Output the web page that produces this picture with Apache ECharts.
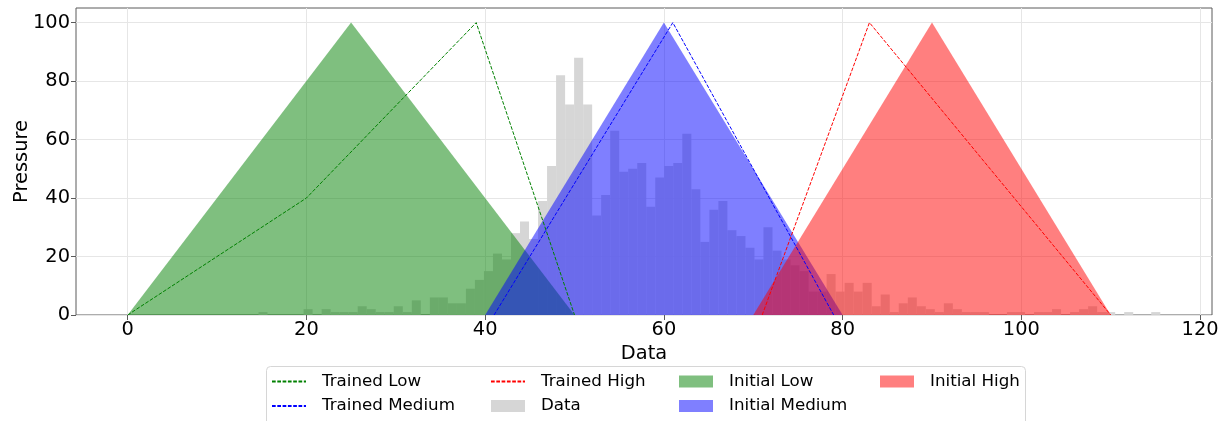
<!DOCTYPE html>
<html>
<head>
<meta charset="utf-8">
<script src="https://cdn.jsdelivr.net/npm/echarts@6/dist/echarts.min.js"></script>
<style>
  html, body { margin: 0; padding: 0; background: #ffffff; }
  #chart { width: 1223px; height: 421px; }
</style>
</head>
<body>
<div id="chart"></div>
<script>
// Histogram of the observed data: first bin edge, bin width and count per bin
const binStart = 14.64;
const binWidth = 1.009;
const binCounts = [
  1, 0, 0, 0, 0, 2, 0, 2, 1, 1,
  1, 3, 2, 1, 1, 3, 1, 5, 0, 6,
  6, 4, 4, 9, 12, 15, 21, 19, 28, 32,
  26, 39, 51, 82, 72, 88, 72, 34, 41, 63,
  49, 50, 52, 37, 47, 51, 52, 62, 43, 25,
  36, 39, 29, 27, 23, 19, 30, 22, 19, 17,
  15, 8, 8, 14, 8, 11, 8, 11, 3, 7,
  1, 4, 6, 3, 2, 1, 4, 2, 1, 1,
  1, 0, 0, 1, 1, 0, 1, 1, 2, 0,
  1, 2, 3, 1, 1, 0, 1, 0, 0, 1
];

// Initial triangular membership functions: [x, pressure] vertices
const initialLow = [[0, 0], [25, 100], [50, 0]];
const initialMedium = [[40, 0], [60, 100], [80, 0]];
const initialHigh = [[70, 0], [90, 100], [110, 0]];

// Trained membership functions
const trainedLow = [[0, 0], [20, 40], [39, 100], [50, 0]];
const trainedMedium = [[41, 0], [61, 100], [79, 0]];
const trainedHigh = [[71, 0], [83, 100], [110, 0]];

// Axis ticks and extents
const xTicks = [0, 20, 40, 60, 80, 100, 120];
const yTicks = [0, 20, 40, 60, 80, 100];
const xMin = -5.78, xMax = 121.33;
const yMin = 0, yMax = 105;

// Rows of [binLeft, binRight, count] for the custom histogram series
const histRows = binCounts.map((c, i) => [
  binStart + i * binWidth,
  binStart + (i + 1) * binWidth,
  c
]);

const FONT = 'DejaVu Sans';
const FRAME = '#5a5a5a';
const GRID = '#e6e6e6';

const GREEN = 'rgba(0,128,0,0.5)';
const BLUE = 'rgba(0,0,255,0.5)';
const RED = 'rgba(255,0,0,0.5)';
const GREY = 'rgba(211,211,211,0.92)';

function areaSeries(name, data, color) {
  return {
    name: name,
    type: 'line',
    data: data,
    symbol: 'none',
    color: color,
    lineStyle: { width: 0 },
    areaStyle: { color: color, opacity: 1 },
    z: 2,
    silent: true
  };
}

function dashedSeries(name, data, color) {
  return {
    name: name,
    type: 'line',
    data: data,
    symbol: 'none',
    color: color,
    lineStyle: { width: 1, type: [3.7, 1.6], color: color },
    z: 3,
    silent: true
  };
}

// Legend entry for a dashed line: hide the marker, keep the line
function lineEntry(name) {
  return { name: name, itemStyle: { opacity: 0 } };
}

function patchEntry(name, color) {
  return { name: name, icon: 'rect', itemStyle: { color: color, opacity: 1 } };
}

function legendColumn(left, data) {
  return {
    orient: 'vertical',
    left: left,
    top: 372.5,
    padding: 0,
    itemWidth: 34,
    itemHeight: 12,
    itemGap: 6.5,
    selectedMode: false,
    textStyle: {
      fontFamily: FONT,
      fontSize: 16.7,
      color: '#000000',
      lineHeight: 18,
      padding: [0, 0, 0, 11]
    },
    data: data
  };
}

const chart = echarts.init(document.getElementById('chart'), null, { renderer: 'canvas' });

chart.setOption({
  animation: false,
  backgroundColor: '#ffffff',
  textStyle: { fontFamily: FONT },
  grid: {
    left: 76, right: 11, top: 8, bottom: 106,
    outerBoundsMode: 'none',
    containLabel: false,
    show: true, borderColor: FRAME, borderWidth: 1,
    backgroundColor: 'transparent'
  },
  xAxis: {
    type: 'value',
    min: xMin, max: xMax,
    splitNumber: 6,
    name: 'Data',
    nameLocation: 'middle',
    nameGap: 29,
    nameTextStyle: { fontFamily: FONT, fontSize: 19.4, color: '#000000' },
    axisLine: { show: false, onZero: false },
    axisTick: { show: true, length: 5, customValues: xTicks, lineStyle: { color: FRAME, width: 1 } },
    axisLabel: { customValues: xTicks, fontFamily: FONT, fontSize: 19.4, color: '#000000', margin: 5 },
    splitLine: { show: true, lineStyle: { color: GRID, width: 1 } }
  },
  yAxis: {
    type: 'value',
    min: yMin, max: yMax,
    interval: 20,
    name: 'Pressure',
    nameLocation: 'middle',
    nameGap: 45,
    nameMoveOverlap: false,
    nameTextStyle: { fontFamily: FONT, fontSize: 19.4, color: '#000000' },
    axisLine: { show: false, onZero: false },
    axisTick: { show: true, length: 5, customValues: yTicks, lineStyle: { color: FRAME, width: 1 } },
    axisLabel: { customValues: yTicks, fontFamily: FONT, fontSize: 19.4, color: '#000000', margin: 6 },
    splitLine: { show: true, lineStyle: { color: GRID, width: 1 } }
  },
  legend: [
    legendColumn(271, [lineEntry('Trained Low'), lineEntry('Trained Medium')]),
    legendColumn(490, [lineEntry('Trained High'), patchEntry('Data', GREY)]),
    legendColumn(679, [patchEntry('Initial Low', GREEN), patchEntry('Initial Medium', BLUE)]),
    legendColumn(880, [patchEntry('Initial High', RED)])
  ],
  graphic: [
    {
      type: 'rect',
      silent: true,
      z: -1,
      shape: { x: 266.5, y: 366.5, width: 759, height: 70, r: 4 },
      style: { fill: 'rgba(255,255,255,0.8)', stroke: '#d6d6d6', lineWidth: 1 }
    }
  ],
  series: [
    {
      name: 'Data',
      type: 'custom',
      data: histRows,
      z: 1,
      silent: true,
      color: GREY,
      encode: { x: [0, 1], y: 2 },
      renderItem: function (params, api) {
        const topLeft = api.coord([api.value(0), api.value(2)]);
        const bottomRight = api.coord([api.value(1), 0]);
        return {
          type: 'rect',
          shape: {
            x: topLeft[0],
            y: topLeft[1],
            width: bottomRight[0] - topLeft[0],
            height: bottomRight[1] - topLeft[1]
          },
          style: { fill: GREY }
        };
      }
    },
    areaSeries('Initial Low', initialLow, GREEN),
    areaSeries('Initial Medium', initialMedium, BLUE),
    areaSeries('Initial High', initialHigh, RED),
    dashedSeries('Trained Low', trainedLow, 'green'),
    dashedSeries('Trained Medium', trainedMedium, 'blue'),
    dashedSeries('Trained High', trainedHigh, 'red')
  ]
});
</script>
</body>
</html>
